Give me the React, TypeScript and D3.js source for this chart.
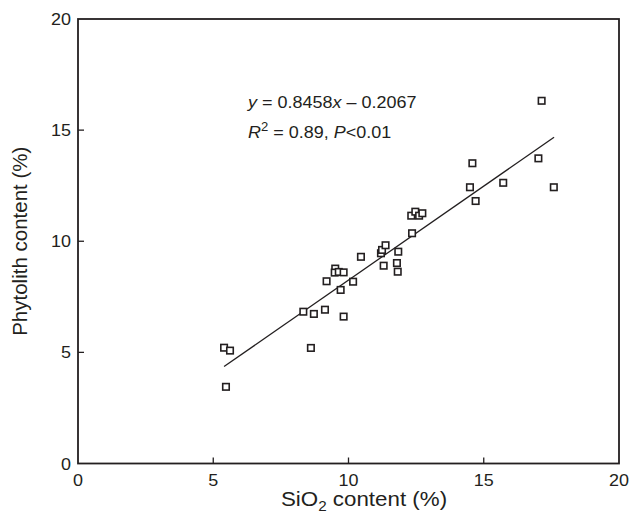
import React from "react";
import * as d3 from "d3";

// SiO2 content (%) vs phytolith content (%)
const sio2 = [
  5.4, 5.62, 5.47, 8.33, 8.72, 9.13, 9.82, 8.61, 9.19, 9.51, 9.49, 9.64, 9.82, 9.71,
  10.17, 10.46, 11.2, 11.24, 11.37, 11.3, 11.84, 11.79, 11.82, 12.35, 12.32, 12.47,
  12.61, 12.73, 17.14, 17.02, 17.59, 14.58, 14.49, 14.7, 15.72,
];
const phytolith = [
  5.21, 5.08, 3.45, 6.83, 6.73, 6.92, 6.61, 5.2, 8.2, 8.77, 8.59, 8.62, 8.6, 7.81,
  8.18, 9.3, 9.46, 9.61, 9.82, 8.9, 9.53, 9.02, 8.63, 10.36, 11.15, 11.33,
  11.15, 11.26, 16.32, 13.73, 12.43, 13.51, 12.43, 11.81, 12.63,
];
const slope = 0.8458;
const intercept = -0.2067;
const fitRange = [5.4, 17.6];
const ticks = [0, 5, 10, 15, 20];

const W = 632;
const H = 521;
const left = 78;
const right = 619;
const top = 19;
const bottom = 463.5;
const sx = 1.09; // the figure's text is a little wide

export default function App() {
  const x = d3.scaleLinear().domain([0, 20]).range([left, right]);
  const y = d3.scaleLinear().domain([0, 20]).range([bottom, top]);
  const pts = sio2.map((v, i) => [v, phytolith[i]]);
  const fit = d3
    .line<number>()
    .x((d) => x(d))
    .y((d) => y(slope * d + intercept))(fitRange);
  const font = "Liberation Sans, Arial, Helvetica, sans-serif";
  const ink = "#231f20";
  const s = 6.5;
  const at = (px: number, py: number) => `translate(${px},${py}) scale(${sx},1)`;

  return (
    <svg
      width={W}
      height={H}
      style={{ position: "absolute", left: 0, top: 0, background: "#fff" }}
      fontFamily={font}
    >
      <rect x={left} y={top} width={right - left} height={bottom - top} fill="none" stroke={ink} strokeWidth={1.8} />
      {ticks.slice(1, -1).map((t) => (
        <g key={t} stroke={ink} strokeWidth={1.3}>
          <line x1={x(t)} x2={x(t)} y1={bottom} y2={bottom - 6} />
          <line x1={left} x2={left + 6} y1={y(t)} y2={y(t)} />
        </g>
      ))}
      {ticks.map((t) => (
        <g key={t} fontSize={16.5} fill={ink}>
          <text transform={at(x(t), bottom + 22)} textAnchor="middle">{t}</text>
          <text transform={at(left - 7, y(t) + 6)} textAnchor="end">{t}</text>
        </g>
      ))}
      <path d={fit ?? ""} fill="none" stroke={ink} strokeWidth={1.3} />
      {pts.map(([a, b], i) => (
        <rect
          key={i}
          x={x(a) - s / 2}
          y={y(b) - s / 2}
          width={s}
          height={s}
          fill="#fff"
          stroke={ink}
          strokeWidth={1.6}
        />
      ))}
      <g fontSize={16.5} fill={ink}>
        <text transform={at(248, 107.5)}>
          <tspan fontStyle="italic">y</tspan> = 0.8458<tspan fontStyle="italic">x</tspan> – 0.2067
        </text>
        <text transform={at(248, 137.5)}>
          <tspan fontStyle="italic">R</tspan>
          <tspan fontSize={12} dy={-7}>2</tspan>
          <tspan dy={7}> = 0.89, </tspan>
          <tspan fontStyle="italic">P</tspan>&lt;0.01
        </text>
      </g>
      <text transform={at(364, 506)} fontSize={20.5} fill={ink} textAnchor="middle">
        SiO<tspan fontSize={14} dy={5}>2</tspan>
        <tspan dy={-5}> content (%)</tspan>
      </text>
      <text
        transform={`translate(27,${(top + bottom) / 2}) rotate(-90)`}
        fontSize={20.5}
        fill={ink}
        textAnchor="middle"
      >
        Phytolith content (%)
      </text>
    </svg>
  );
}
